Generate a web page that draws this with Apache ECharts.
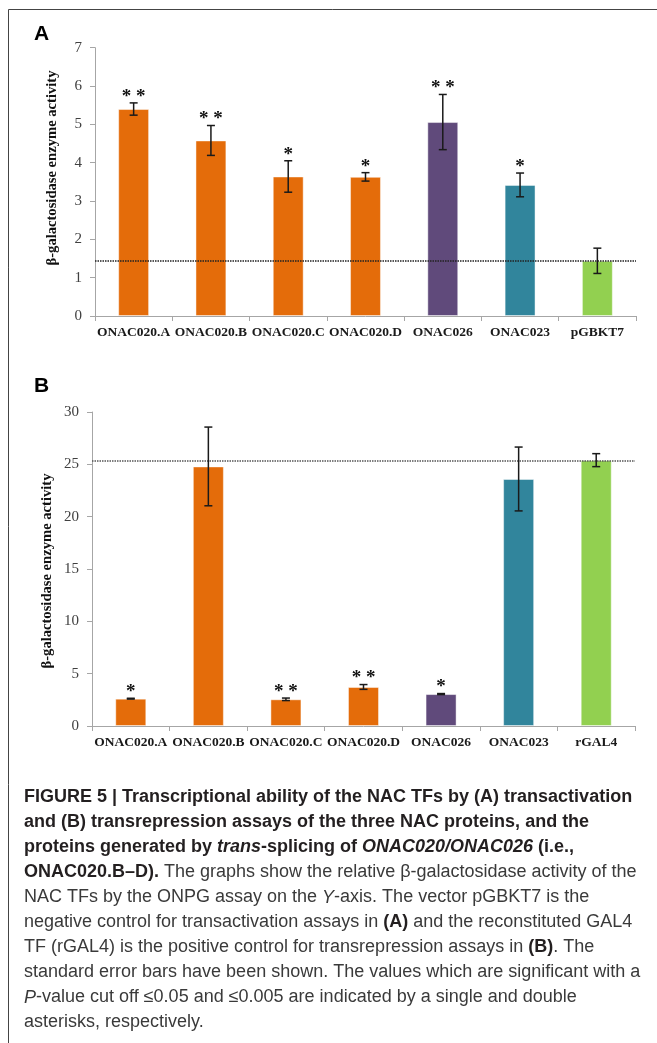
<!DOCTYPE html>
<html>
<head>
<meta charset="utf-8">
<script src="https://cdn.jsdelivr.net/npm/echarts@6/dist/echarts.min.js"></script>
<style>
html,body{margin:0;padding:0;background:#fff;}
#chart{width:657px;height:1043px;}
</style>
</head>
<body>
<div id="chart"></div>
<script>
// ---- Data ----
const categoriesA = ['ONAC020.A','ONAC020.B','ONAC020.C','ONAC020.D','ONAC026','ONAC023','pGBKT7'];
const valuesA = [5.40, 4.58, 3.64, 3.63, 5.06, 3.42, 1.44];
const errorsA = [0.16, 0.39, 0.41, 0.11, 0.72, 0.31, 0.33];
const signifA = ['* *','* *','*','*','* *','*',''];
const controlLineA = 1.44;
const yTicksA = {min: 0, max: 7, interval: 1};

const categoriesB = ['ONAC020.A','ONAC020.B','ONAC020.C','ONAC020.D','ONAC026','ONAC023','rGAL4'];
const valuesB = [2.61, 24.8, 2.55, 3.73, 3.05, 23.6, 25.4];
const errorsB = [0.04, 3.76, 0.12, 0.23, 0.05, 3.05, 0.62];
const signifB = ['*','','* *','* *','*','',''];
const controlLineB = 25.38;
const yTicksB = {min: 0, max: 30, interval: 5};

const barColors = ['#E46C0A','#E46C0A','#E46C0A','#E46C0A','#604A7B','#31859C','#92D050'];
const yTitle = 'β-galactosidase enzyme activity';

const captionLines = [
  '{b|FIGURE 5 | Transcriptional ability of the NAC TFs by (A) transactivation}',
  '{b|and (B) transrepression assays of the three NAC proteins, and the}',
  '{b|proteins generated by }{bi|trans}{b|-splicing of }{bi|ONAC020/ONAC026}{b| (i.e.,}',
  '{b|ONAC020.B–D).}{r| The graphs show the relative β-galactosidase activity of the}',
  '{r|NAC TFs by the ONPG assay on the }{ri|Y}{r|-axis. The vector pGBKT7 is the}',
  '{r|negative control for transactivation assays in }{b|(A)}{r| and the reconstituted GAL4}',
  '{r|TF (rGAL4) is the positive control for transrepression assays in }{b|(B)}{r|. The}',
  '{r|standard error bars have been shown. The values which are significant with a}',
  '{ri|P}{r|-value cut off ≤0.05 and ≤0.005 are indicated by a single and double}',
  '{r|asterisks, respectively.}'
];

// ---- Chart ----
const chart = echarts.init(document.getElementById('chart'), null, {renderer: 'canvas'});
const serif = '"Liberation Serif", "Times New Roman", serif';
const sans = '"Liberation Sans", Arial, sans-serif';

function makeX(cats, gridIndex) {
  return {
    type: 'category', data: cats, gridIndex: gridIndex,
    axisLine: {lineStyle: {color: '#a6a6a6', width: 1}},
    axisTick: {show: true, length: 5, lineStyle: {color: '#a6a6a6'}},
    axisLabel: {interval: 0, margin: 10, fontFamily: serif, fontWeight: 'bold', fontSize: 13.5, color: '#1a1a1a'}
  };
}
function makeY(t, gridIndex) {
  return {
    type: 'value', gridIndex: gridIndex, min: t.min, max: t.max, interval: t.interval,
    axisLine: {show: true, lineStyle: {color: '#a6a6a6', width: 1}},
    axisTick: {show: true, length: 5, lineStyle: {color: '#a6a6a6'}},
    splitLine: {show: false},
    axisLabel: {margin: 13, fontFamily: serif, fontSize: 15, color: '#404040'}
  };
}
function barSeries(vals, idx, ctrl, lineColor) {
  return {
    type: 'bar', xAxisIndex: idx, yAxisIndex: idx, barWidth: '40%',
    data: vals.map((v, i) => ({value: v, itemStyle: {color: barColors[i]}})),
    itemStyle: {borderColor: 'rgba(255,255,255,0.45)', borderWidth: 1},
    silent: true,
    markLine: {
      silent: true, symbol: 'none', label: {show: false},
      lineStyle: {type: [1.5, 1], color: lineColor, width: 1.5},
      data: [{yAxis: ctrl}]
    },
    z: 2
  };
}
function errSeries(vals, errs, sig, idx) {
  return {
    type: 'custom', xAxisIndex: idx, yAxisIndex: idx, z: 5, silent: true,
    data: vals.map((v, i) => [i, v, errs[i], sig[i]]),
    renderItem: function (params, api) {
      const i = api.value(0), v = api.value(1), e = api.value(2);
      const s = sig[i];
      const top = api.coord([i, v + e]);
      const bot = api.coord([i, v - e]);
      const x = top[0];
      const cap = 4;
      const ls = {stroke: '#1a1a1a', lineWidth: 1.5};
      const children = [
        {type: 'line', shape: {x1: x, y1: top[1], x2: x, y2: bot[1]}, style: ls},
        {type: 'line', shape: {x1: x - cap, y1: top[1], x2: x + cap, y2: top[1]}, style: ls},
        {type: 'line', shape: {x1: x - cap, y1: bot[1], x2: x + cap, y2: bot[1]}, style: ls}
      ];
      if (s) {
        children.push({type: 'text', style: {
          text: s, x: x, y: top[1] - 6, align: 'center', verticalAlign: 'middle',
          font: 'bold 19px ' + serif, fill: '#111'
        }});
      }
      return {type: 'group', children: children};
    }
  };
}

const capFont = 18;
const rich = {
  b: {fontFamily: sans, fontWeight: 'bold', fontSize: capFont, lineHeight: 25, fill: '#231f20'},
  bi: {fontFamily: sans, fontWeight: 'bold', fontStyle: 'italic', fontSize: capFont, lineHeight: 25, fill: '#231f20'},
  r: {fontFamily: sans, fontWeight: 'normal', fontSize: capFont, lineHeight: 25, fill: '#3a3a3a'},
  ri: {fontFamily: sans, fontWeight: 'normal', fontStyle: 'italic', fontSize: capFont, lineHeight: 25, fill: '#3a3a3a'}
};

const option = {
  animation: false,
  backgroundColor: '#ffffff',
  grid: [
    {left: 95, top: 47.7, width: 541, height: 268.3},
    {left: 92, top: 412, width: 543, height: 314}
  ],
  xAxis: [makeX(categoriesA, 0), makeX(categoriesB, 1)],
  yAxis: [makeY(yTicksA, 0), makeY(yTicksB, 1)],
  series: [
    barSeries(valuesA, 0, controlLineA, '#222'),
    errSeries(valuesA, errorsA, signifA, 0),
    barSeries(valuesB, 1, controlLineB, '#555'),
    errSeries(valuesB, errorsB, signifB, 1)
  ],
  graphic: [
    {type: 'line', shape: {x1: 8.5, y1: 9.5, x2: 657, y2: 9.5}, style: {stroke: '#444', lineWidth: 1}},
    {type: 'line', shape: {x1: 8.5, y1: 9.5, x2: 8.5, y2: 1043}, style: {stroke: '#444', lineWidth: 1}},
    {type: 'text', x: 34, y: 24, style: {text: 'A', font: 'bold 21px ' + sans, fill: '#000'}},
    {type: 'text', x: 34, y: 376, style: {text: 'B', font: 'bold 21px ' + sans, fill: '#000'}},
    {type: 'text', x: 52, y: 168, rotation: Math.PI / 2,
      style: {text: yTitle, font: 'bold 14.6px ' + serif, fill: '#111', align: 'center', verticalAlign: 'middle'}},
    {type: 'text', x: 47, y: 571, rotation: Math.PI / 2,
      style: {text: yTitle, font: 'bold 14.6px ' + serif, fill: '#111', align: 'center', verticalAlign: 'middle'}},
    {type: 'text', x: 24, y: 785,
      style: {text: captionLines.join('\n'), rich: rich, fontSize: capFont, lineHeight: 25}}
  ]
};
chart.setOption(option);
</script>
</body>
</html>
